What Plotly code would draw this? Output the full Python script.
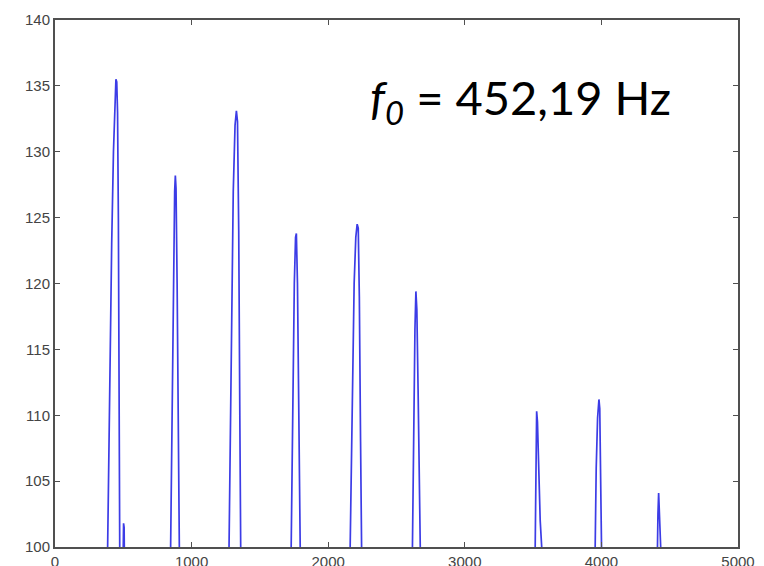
import plotly.graph_objects as go

# Spectrum trace (frequency in Hz, level in dB); points below 100 dB fall outside the axes
freq_hz = [
    375, 385, 400, 415, 428, 438, 446, 452, 458, 464, 470, 475,          # peak 1
    490, 497, 502, 506, 510, 514,                                       # small bump
    840, 847, 858, 868, 876, 881, 886, 894, 903, 910, 915,              # peak 2
    1266, 1274, 1290, 1305, 1318, 1328, 1336, 1345, 1353, 1359, 1364,   # peak 3
    1722, 1728, 1740, 1752, 1761, 1767, 1775, 1785, 1796, 1801,         # peak 4
    2152, 2160, 2175, 2190, 2202, 2212, 2220, 2228, 2237, 2245, 2250,   # peak 5
    2610, 2616, 2626, 2635, 2642, 2649, 2658, 2668, 2677, 2682,         # peak 6
    3510, 3514, 3520, 3526, 3532, 3542, 3552, 3563, 3568,               # peak 7
    3948, 3953, 3962, 3972, 3982, 3988, 3995, 4002, 4007,               # peak 8
    4405, 4409, 4414, 4419, 4424, 4429, 4434, 4438,                     # peak 9
]
level_db = [
    92, 100, 112, 123, 130, 134, 135.5, 135.3, 133, 125, 110, 97,
    92, 100.5, 101.8, 101.5, 99, 92,
    94, 100, 113, 122, 127, 128.2, 127.2, 120, 109, 100, 94,
    93, 100, 116, 127, 132, 133.1, 132.3, 124, 110, 100, 93,
    94, 100, 112, 120, 123.5, 123.8, 120, 110, 100, 94,
    94, 100, 112, 120, 123.5, 124.5, 124.2, 119, 108, 100, 94,
    94, 100, 110, 116.5, 119.4, 118, 112, 104, 100, 94,
    95, 100, 106, 110.3, 109.5, 105.5, 102, 100, 95,
    95, 100, 106, 109.8, 111.2, 110.5, 106, 100, 95,
    96, 100, 102.5, 104.1, 103, 101.2, 100, 96,
]

x_ticks = [0, 1000, 2000, 3000, 4000, 5000]
y_ticks = [100, 105, 110, 115, 120, 125, 130, 135, 140]
label_text = "<i>f<sub>0</sub></i> = 452,19 Hz"

fig = go.Figure()
fig.add_trace(go.Scatter(
    x=freq_hz, y=level_db, mode="lines",
    line=dict(color="rgb(60,60,230)", width=1.7),
    showlegend=False, hoverinfo="skip",
))

axis_common = dict(
    showgrid=False, zeroline=False, showline=True, linecolor="#505050", linewidth=2,
    mirror="ticks", ticks="inside", ticklen=5, tickcolor="#505050", tickwidth=1,
    tickfont=dict(family="Liberation Sans, Arial", size=15, color="#444444"),
    automargin=False,
)
fig.update_xaxes(range=[0, 5000], tickvals=x_ticks, ticktext=[str(v) for v in x_ticks], **axis_common)
fig.update_yaxes(range=[100, 140], tickvals=y_ticks, ticktext=[str(v) for v in y_ticks], **axis_common)

fig.add_annotation(
    x=2290, y=133.9, xref="x", yref="y", xanchor="left", yanchor="middle",
    text=label_text, showarrow=False,
    font=dict(family="Lato, Carlito, Calibri", size=47, color="black"),
)

fig.update_layout(
    width=764, height=566,
    margin=dict(l=55, r=26, t=20, b=19),
    plot_bgcolor="white", paper_bgcolor="white",
)
fig.write_html("out.html")
